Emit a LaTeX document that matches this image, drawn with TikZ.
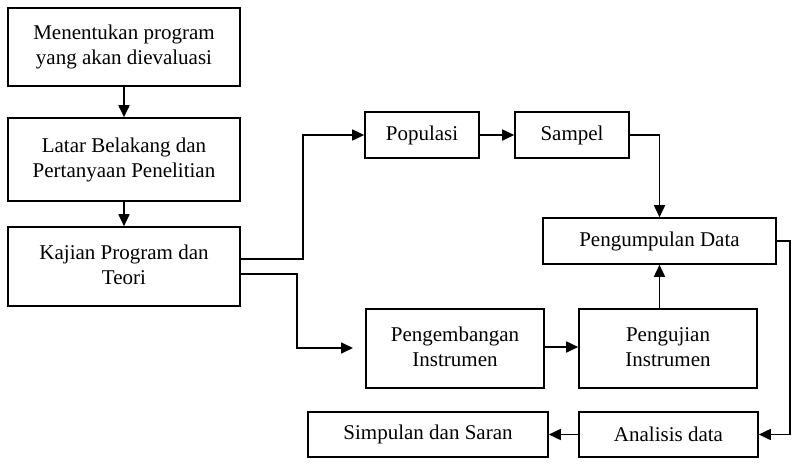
\documentclass[tikz,border=0pt]{standalone}
\usepackage{fontspec}
\setmainfont{Liberation Serif}
\usetikzlibrary{arrows.meta}
\begin{document}
\begin{tikzpicture}[x=1pt,y=-1pt,
  box/.style={draw, line width=1.6pt, rectangle, align=center, inner sep=0pt,
    font=\fontsize{21}{25}\selectfont},
  arr/.style={line width=1.7pt, -{Triangle[length=12pt,width=11pt]}}]
\useasboundingbox (0,0) rectangle (800,464);
\node[box, minimum width=232pt, minimum height=78pt] (b1) at (124,47) {Menentukan program\\yang akan dievaluasi};
\node[box, minimum width=232pt, minimum height=83pt] (b2) at (124,159.5) {Latar Belakang dan\\Pertanyaan Penelitian};
\node[box, minimum width=232pt, minimum height=79pt] (b3) at (124,266.5) {\raisebox{3pt}{Kajian Program dan}\\\raisebox{3pt}{Teori}};
\node[box, minimum width=114pt, minimum height=46pt] (pop) at (422,135) {Populasi};
\node[box, minimum width=114pt, minimum height=46pt] (sam) at (572,135) {Sampel};
\node[box, minimum width=233pt, minimum height=46pt] (pd) at (659.5,241) {Pengumpulan Data};
\node[box, minimum width=178pt, minimum height=79pt] (pi) at (455,348.5) {\raisebox{3pt}{Pengembangan}\\\raisebox{3pt}{Instrumen}};
\node[box, minimum width=178pt, minimum height=79pt] (uj) at (668,348.5) {\raisebox{3pt}{Pengujian}\\\raisebox{3pt}{Instrumen}};
\node[box, minimum width=240pt, minimum height=45pt] (sim) at (428,434.5) {Simpulan dan Saran};
\node[box, minimum width=179pt, minimum height=45pt] (ana) at (668.5,434.5) {Analisis data};
\coordinate (gap) at (353,348);
\draw[arr] (b1) -- (b2);
\draw[arr] (b2) -- (b3);
\draw[arr] (b3.east |- 0,259) -- (303,259) |- (pop.west);
\draw[arr] (b3.east |- 0,274) -- (297,274) |- (gap);
\draw[arr] (pop) -- (sam);
\draw[arr] (sam.east) -| (pd.north);
\draw[arr] (pi.east |- 0,347) -- (uj.west |- 0,347);
\draw[arr] (pd.south |- uj.north) -- (pd.south);
\draw[arr] (pd.east) -- (790,241) |- (ana.east);
\draw[arr] (ana) -- (sim);
\end{tikzpicture}
\end{document}
